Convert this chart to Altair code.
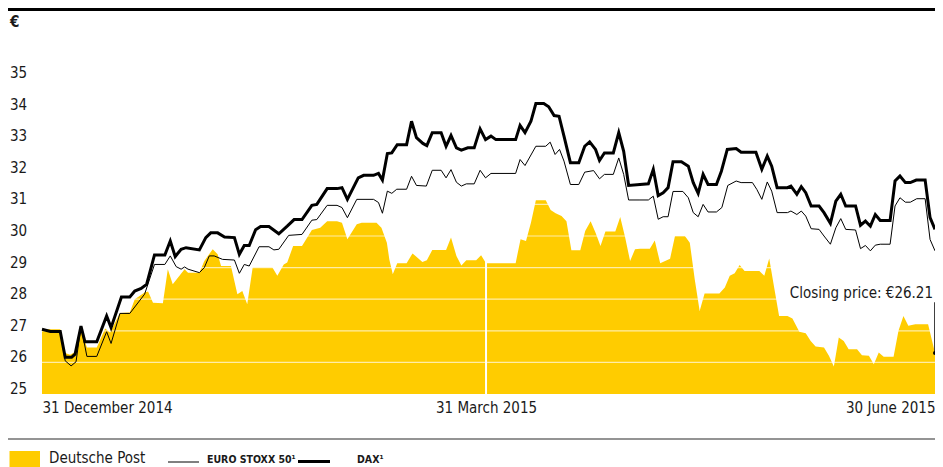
import altair as alt
import pandas as pd

FONT = "DejaVu Sans Condensed, DejaVu Sans, sans-serif"
YELLOW = "#FFCC00"
INK = "#1a1a1a"

# x = calendar days after 31 December 2014
dp_day = [0, 3.7, 4.7, 5.7, 6.7, 7.9, 9.1, 11.1, 12.8, 13.8, 15.8, 17.8, 18.8, 20.8, 21.5, 22.5, 24.5, 25.5, 26.5, 28.9,
          29.6, 31.9, 32.9, 34.6, 35.6, 36.3, 38.3, 39.6, 40.6, 41.6, 42.7, 46.7, 47.7, 49.0, 49.7, 50.9, 52.7, 54.7, 56.4, 57.8,
          59.8, 60.8, 61.9, 63.8, 64.8, 67.8, 68.8, 69.9, 70.4, 71.1, 72.0, 73.9, 75.1, 77.1, 78.0, 79.1, 81.9, 82.9, 84.0, 85.0,
          86.0, 88.0, 89.0, 90.0, 96.0, 97.0, 98.1, 99.1, 100.1, 102.1, 103.1, 104.1, 105.3, 106.3, 107.3, 109.1, 110.1, 111.2,
          112.2, 113.2, 114.2, 116.2, 117.2, 118.2, 119.2, 120.2, 121.2, 123.2, 124.2, 125.3, 127.3, 128.3, 130.3, 131.3, 132.3,
          133.3, 134.3, 137.3, 138.4, 139.4, 140.4, 141.4, 142.4, 145.4, 146.4, 147.4, 148.4, 149.4, 151.1, 152.1, 153.5, 154.8,
          155.8, 156.8, 158.5, 159.5, 160.5, 161.5, 162.5, 163.5, 165.2, 166.2, 167.6, 168.6, 169.6, 170.6, 172.6, 173.6, 174.6,
          175.6, 177.0, 179.6, 181.0]
dp_val = [27.05, 27.05, 26.3, 26.24, 26.33, 27.07, 26.47, 26.47, 27.07, 26.95, 27.56, 27.58, 28.0, 28.21, 28.24, 27.89, 27.87,
          28.95, 28.47, 28.95, 28.84, 28.84, 29.21, 29.58, 29.42, 29.05, 29.05, 28.16, 28.26, 27.84, 29.0, 29.0, 28.74, 29.1, 29.16,
          29.68, 29.68, 30.19, 30.26, 30.47, 30.47, 30.42, 29.9, 30.37, 30.42, 30.42, 30.26, 29.79, 29.26, 28.79, 29.14, 29.14,
          29.45, 29.18, 29.23, 29.56, 29.56, 29.95, 29.37, 29.07, 29.23, 29.23, 29.39, 29.14, 29.14, 29.9, 29.84, 30.42, 31.13,
          31.13, 30.82, 30.72, 30.63, 30.47, 29.55, 29.55, 30.16, 30.47, 30.1, 29.68, 30.14, 30.14, 30.6, 29.95, 29.21, 29.58,
          29.6, 29.6, 29.86, 29.14, 29.28, 30.0, 30.0, 29.79, 28.63, 27.63, 28.18, 28.18, 28.37, 28.74, 28.82, 29.08, 28.89, 28.89,
          28.74, 29.29, 28.37, 27.47, 27.47, 27.39, 26.97, 26.92, 26.68, 26.5, 26.47, 26.21, 25.87, 26.79, 26.68, 26.42, 26.42,
          26.23, 26.21, 25.94, 26.31, 26.18, 26.18, 27.0, 27.47, 27.16, 27.21, 27.21, 26.3]

stoxx_day = [0, 1.7, 3.7, 4.7, 5.9, 6.9, 7.9, 9.1, 11.1, 13.1, 14.0, 15.8, 17.8, 20.8, 22.8, 24.9, 26.0, 27.2, 28.2, 28.9,
             29.6, 31.9, 32.9, 33.9, 34.9, 36.6, 39.0, 40.0, 41.0, 42.0, 44.0, 46.0, 47.0, 48.0, 50.0, 52.7, 54.7, 55.7, 57.8, 59.8,
             60.8, 61.9, 63.8, 67.2, 68.2, 69.0, 70.0, 70.9, 71.9, 73.9, 74.9, 75.9, 77.9, 79.1, 80.9, 81.9, 82.9, 84.0, 85.0, 86.0,
             87.6, 88.8, 89.9, 91.0, 96.0, 96.9, 97.9, 100.1, 102.1, 103.0, 104.0, 104.9, 105.8, 107.1, 108.8, 110.0, 111.8, 113.0,
             114.0, 115.8, 116.9, 117.9, 118.9, 121.2, 122.9, 123.9, 124.9, 125.9, 126.9, 127.9, 129.9, 131.0, 132.0, 133.0, 134.0,
             135.0, 136.7, 137.8, 139.0, 140.7, 141.7, 144.0, 144.9, 145.9, 147.0, 147.9, 149.0, 151.1, 151.8, 153.0, 153.9, 154.8,
             155.9, 157.5, 158.5, 159.8, 160.9, 161.9, 162.9, 164.9, 165.9, 166.9, 167.9, 168.9, 169.9, 171.9, 172.9, 173.9, 175.0,
             176.0, 177.3, 179.0, 180.0, 181.0]
stoxx_val = [27.05, 26.98, 26.98, 26.05, 25.89, 26.02, 27.15, 26.19, 26.19, 26.97, 26.6, 27.55, 27.55, 28.16, 29.1, 29.1, 29.37,
             29.03, 28.95, 29.02, 28.95, 28.84, 29.0, 29.37, 29.37, 29.26, 29.24, 28.82, 29.1, 29.05, 29.66, 29.66, 29.56, 29.58,
             30.02, 30.05, 30.5, 30.52, 30.97, 30.97, 30.9, 30.58, 31.16, 31.16, 31.06, 30.72, 31.42, 31.35, 31.48, 31.48, 31.89,
             31.6, 31.58, 32.08, 32.08, 31.84, 32.1, 31.7, 31.58, 31.65, 31.65, 32.08, 31.84, 31.98, 31.98, 32.42, 32.23, 32.84,
             32.84, 32.97, 32.58, 32.74, 32.37, 31.63, 31.63, 32.02, 32.07, 31.81, 31.95, 31.95, 32.47, 31.95, 31.14, 31.14, 31.14,
             31.26, 30.53, 30.61, 30.61, 31.41, 31.41, 31.21, 30.74, 30.61, 31.0, 30.76, 30.76, 30.9, 31.6, 31.74, 31.69, 31.69,
             31.47, 31.16, 31.71, 31.42, 30.74, 30.74, 30.79, 30.68, 30.79, 30.63, 30.23, 30.21, 30.0, 29.74, 30.26, 30.55, 30.21,
             30.19, 29.6, 29.7, 29.53, 29.71, 29.74, 29.74, 30.95, 31.21, 31.07, 31.07, 31.18, 31.18, 29.89, 29.53]

dax_day = [0, 1.7, 3.7, 4.7, 6.0, 6.7, 7.9, 8.7, 11.1, 13.1, 14.0, 16.1, 17.8, 18.8, 20.1, 21.2, 22.8, 24.9, 26.0, 27.0,
           28.2, 29.2, 31.9, 33.2, 34.2, 35.6, 37.0, 39.0, 40.0, 41.0, 42.0, 43.3, 44.3, 46.0, 48.0, 49.7, 51.1, 52.7, 54.7, 55.7,
           57.8, 59.8, 60.8, 61.9, 64.1, 65.2, 67.2, 68.2, 69.0, 70.0, 70.9, 72.0, 73.9, 74.9, 75.9, 77.2, 78.0, 79.1, 80.9, 81.9,
           82.9, 84.0, 85.0, 86.3, 87.6, 88.8, 89.9, 91.0, 92.0, 96.0, 96.9, 97.9, 99.1, 100.1, 101.7, 102.7, 103.8, 104.8, 105.8,
           107.1, 108.8, 110.0, 111.0, 112.2, 113.0, 114.0, 115.8, 116.9, 117.9, 118.9, 121.2, 122.9, 123.9, 124.9, 125.9, 126.9,
           127.9, 129.6, 131.0, 132.0, 133.0, 134.0, 135.0, 136.7, 137.7, 138.9, 140.7, 141.7, 144.7, 145.9, 147.0, 147.9, 149.0,
           151.1, 151.8, 153.0, 153.9, 154.8, 155.9, 157.5, 158.5, 159.8, 160.9, 161.9, 162.9, 164.9, 165.9, 166.9, 167.9, 168.9,
           169.9, 171.9, 172.9, 173.9, 175.0, 176.0, 177.2, 179.0, 180.0, 181.0]
dax_val = [27.05, 26.98, 26.98, 26.16, 26.16, 26.26, 27.15, 26.65, 26.65, 27.47, 27.1, 28.07, 28.07, 28.26, 28.34, 28.47, 29.4,
           29.4, 29.84, 29.35, 29.58, 29.63, 29.56, 29.95, 30.1, 30.1, 29.97, 29.95, 29.42, 29.7, 29.7, 30.2, 30.3, 30.3, 30.07,
           30.31, 30.52, 30.52, 30.97, 31.0, 31.5, 31.5, 31.53, 31.16, 31.84, 31.92, 31.92, 31.98, 31.77, 32.61, 32.63, 32.89,
           32.89, 33.63, 33.11, 32.93, 32.86, 33.27, 33.27, 32.84, 33.18, 32.79, 32.72, 32.79, 32.79, 33.39, 33.05, 33.16, 33.05,
           33.05, 33.5, 33.27, 33.63, 34.19, 34.19, 34.09, 33.81, 33.79, 33.16, 32.32, 32.32, 32.84, 32.98, 32.74, 32.39, 32.63,
           32.63, 33.27, 32.68, 31.6, 31.63, 31.65, 32.11, 31.28, 31.37, 31.53, 32.35, 32.35, 32.21, 31.69, 31.35, 31.95, 31.63,
           31.63, 32.05, 32.74, 32.77, 32.65, 32.65, 32.11, 32.53, 32.21, 31.53, 31.53, 31.58, 31.32, 31.56, 31.37, 30.95, 30.95,
           30.74, 30.4, 31.1, 31.32, 30.95, 30.95, 30.34, 30.47, 30.31, 30.68, 30.49, 30.49, 31.74, 31.9, 31.69, 31.69, 31.77,
           31.77, 30.58, 30.21]

y_ticks = [25, 26, 27, 28, 29, 30, 31, 32, 33, 34, 35]
grid_vals = [26, 27, 28, 29, 30, 31, 32, 33, 34]
x_ticks = [0, 90, 181]
x_tick_labels = ["31 December 2014", "31 March 2015", "30 June 2015"]
unit_label = "€"
closing_text = "Closing price: €26.21"
legend_names = ["Deutsche Post", "EURO STOXX 50¹", "DAX¹"]

# layout (pixels); the page is 927px wide inside its margins
PL, PT, W, H = 34, 70, 893, 316
TOTAL_W, TOTAL_H = 927, 459


def frame(days, vals):
    n = min(len(days), len(vals))
    return pd.DataFrame({"day": days[:n], "v": vals[:n]})


dp_df = frame(dp_day, dp_val)
stoxx_df = frame(stoxx_day, stoxx_val)
dax_df = frame(dax_day, dax_val)
grid_df = pd.DataFrame({"v": grid_vals})
ytick_df = pd.DataFrame({"v": y_ticks, "label": [str(t) for t in y_ticks]})
one = pd.DataFrame({"a": [0]})

label_expr = " : ".join(
    f"datum.value == {t} ? '{l}'" for t, l in zip(x_ticks[:-1], x_tick_labels[:-1])
) + f" : '{x_tick_labels[-1]}'"

X = alt.X(
    "day:Q",
    title=None,
    scale=alt.Scale(domain=[0, 181], nice=False, zero=False),
    axis=alt.Axis(values=x_ticks, labelExpr=label_expr, labelFlush=True, labelOverlap=False,
                  domain=False, ticks=False, tickSize=0, grid=False, labelPadding=6,
                  labelFontSize=15, labelColor=INK, labelFont=FONT),
)
Y = alt.Y("v:Q", axis=None, scale=alt.Scale(domain=[25, 35], nice=False, zero=False))

area = alt.Chart(dp_df).mark_area(color=YELLOW, interpolate="linear").encode(x=X, y=Y, y2=alt.datum(25))
grid = alt.Chart(grid_df).mark_rule(color="white", strokeWidth=1.2, opacity=0.65).encode(y=Y)
march = alt.Chart(one).mark_rule(color="white", strokeWidth=2).encode(x=alt.datum(x_ticks[1]))
stoxx = alt.Chart(stoxx_df).mark_line(color="black", strokeWidth=1).encode(x=X, y=Y)
dax = alt.Chart(dax_df).mark_line(color="black", strokeWidth=3).encode(x=X, y=Y)

# y tick labels (baseline sits on the value)
ylabels = alt.Chart(ytick_df).mark_text(align="left", baseline="alphabetic", fontSize=15, font=FONT,
                                        color=INK).encode(y=Y, text="label:N", x=alt.value(2 - PL))
unit = alt.Chart(one).mark_text(align="left", baseline="middle", fontSize=15, fontWeight="bold", font=FONT,
                                color=INK, text=unit_label).encode(x=alt.value(2 - PL), y=alt.value(14 - PT))

last_day, last_val = dp_day[-1], dp_val[-1]
lead = alt.Chart(one).mark_rule(color="black", strokeWidth=1.5).encode(
    x=alt.datum(last_day), y=alt.datum(last_val), y2=alt.datum(27.9))
dot = alt.Chart(one).mark_point(filled=True, color="black", size=16, opacity=1).encode(
    x=alt.datum(last_day), y=alt.datum(last_val))
closing = alt.Chart(one).mark_text(align="right", baseline="alphabetic", dx=-2, fontSize=15, font=FONT,
                                   color=INK, text=closing_text).encode(
    x=alt.datum(last_day), y=alt.datum(28.03))

# decoration (pixel positions relative to plot origin)
top_rule = alt.Chart(one).mark_rule(color="black", strokeWidth=3).encode(
    x=alt.value(-PL), x2=alt.value(TOTAL_W - PL), y=alt.value(1.5 - PT))
sep_rule = alt.Chart(one).mark_rule(color="#707070", strokeWidth=1.5).encode(
    x=alt.value(-PL), x2=alt.value(TOTAL_W - PL), y=alt.value(431 - PT))
leg_rect = alt.Chart(one).mark_rect(color=YELLOW).encode(
    x=alt.value(1.5 - PL), x2=alt.value(32 - PL), y=alt.value(443 - PT), y2=alt.value(TOTAL_H - PT))
leg_thin = alt.Chart(one).mark_rule(color="black", strokeWidth=1).encode(
    x=alt.value(160 - PL), x2=alt.value(191 - PL), y=alt.value(454 - PT))
leg_thick = alt.Chart(one).mark_rule(color="black", strokeWidth=3).encode(
    x=alt.value(290 - PL), x2=alt.value(322 - PL), y=alt.value(453.5 - PT))
leg_t1 = alt.Chart(one).mark_text(align="left", baseline="alphabetic", fontSize=15, font=FONT, color=INK,
                                  text=legend_names[0]).encode(x=alt.value(41 - PL), y=alt.value(455 - PT))
leg_t2 = alt.Chart(one).mark_text(align="left", baseline="alphabetic", fontSize=10.5, fontWeight="bold",
                                  font=FONT, color=INK, text=legend_names[1]).encode(
    x=alt.value(199 - PL), y=alt.value(455 - PT))
leg_t3 = alt.Chart(one).mark_text(align="left", baseline="alphabetic", fontSize=10.5, fontWeight="bold",
                                  font=FONT, color=INK, text=legend_names[2]).encode(
    x=alt.value(349 - PL), y=alt.value(455 - PT))

chart = alt.layer(
    area, grid, march, stoxx, dax, ylabels, unit, lead, dot, closing,
    top_rule, sep_rule, leg_rect, leg_thin, leg_thick, leg_t1, leg_t2, leg_t3,
).properties(
    width=W, height=H,
    autosize=alt.AutoSizeParams(type="none"),
    padding={"left": PL, "top": PT, "right": TOTAL_W - PL - W, "bottom": TOTAL_H - PT - H},
    background="white",
).configure_view(strokeWidth=0)

chart.save("out.html", embed_options={"renderer": "svg", "actions": False})
